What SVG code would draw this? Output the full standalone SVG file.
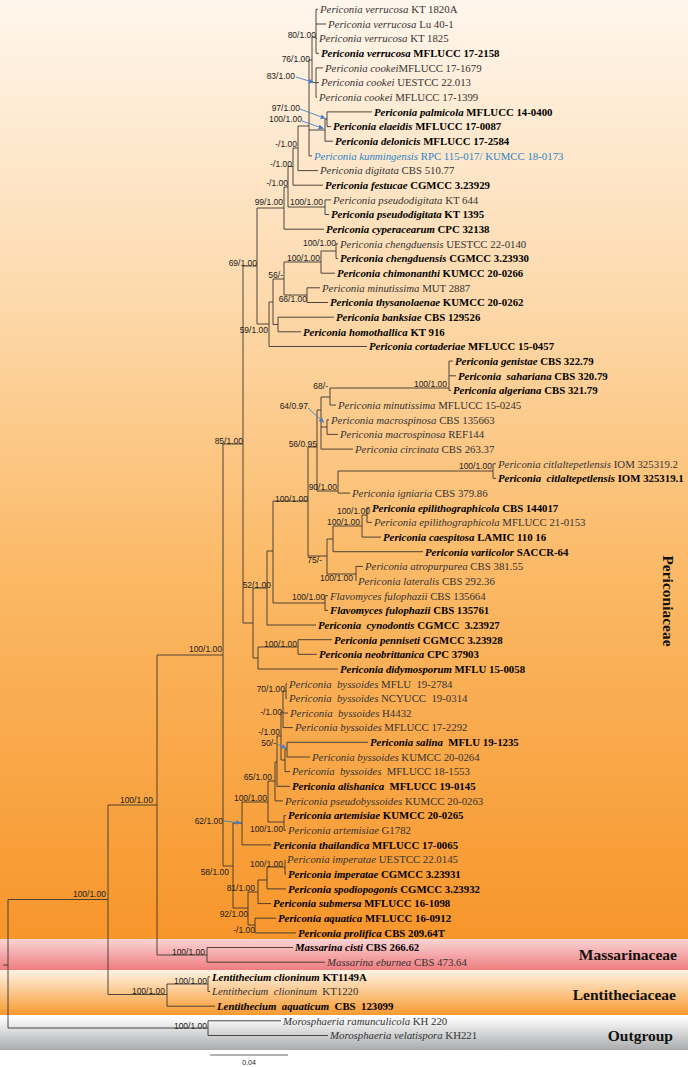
<svg xmlns="http://www.w3.org/2000/svg" width="688" height="1067" viewBox="0 0 688 1067">
<style>
.l{stroke:#3a3530;stroke-width:0.9;fill:none}
.t{font-family:"Liberation Serif",serif;font-size:10.8px;fill:#333}
.b{font-weight:bold;fill:#000}
.i{font-style:italic}
.p{white-space:pre}
.s{font-family:"Liberation Sans",sans-serif;font-size:8.5px;fill:#222;text-anchor:end}
.fam{font-family:"Liberation Serif",serif;font-size:15.5px;font-weight:bold;fill:#111}
.ar{stroke:#4a7ec2;stroke-width:0.9;fill:none;marker-end:url(#ah)}
</style>
<defs>
<linearGradient id="gP" x1="0" y1="0" x2="0" y2="1">
<stop offset="0" stop-color="#fff6ec"/><stop offset="0.3" stop-color="#fddbb0"/><stop offset="0.6" stop-color="#fbba68"/><stop offset="1" stop-color="#f7962b"/>
</linearGradient>
<linearGradient id="gM" x1="0" y1="0" x2="0" y2="1">
<stop offset="0" stop-color="#fad4d4"/><stop offset="1" stop-color="#ef7d80"/>
</linearGradient>
<linearGradient id="gL" x1="0" y1="0" x2="0" y2="1">
<stop offset="0" stop-color="#fff3e4"/><stop offset="1" stop-color="#f79a30"/>
</linearGradient>
<linearGradient id="gO" x1="0" y1="0" x2="0" y2="1">
<stop offset="0" stop-color="#ffffff"/><stop offset="1" stop-color="#a9abad"/>
</linearGradient>
<marker id="ah" markerWidth="6" markerHeight="6" refX="5" refY="3" orient="auto" markerUnits="userSpaceOnUse">
<path d="M0,0.5 L5,3 L0,5.5 Z" fill="#4a7ec2"/>
</marker>
</defs>
<rect width="688" height="1067" fill="#fff"/>
<g id="bands">
<rect x="0" y="0" width="688" height="939" fill="url(#gP)"/>
<rect x="0" y="939" width="688" height="31" fill="url(#gM)"/>
<rect x="0" y="970" width="688" height="45" fill="url(#gL)"/>
<rect x="0" y="1017" width="688" height="33" fill="url(#gO)"/>
</g>
<g id="connectors" class="l">
<path d="M316 9.3H318M316 24H326M316 38.6H317M316 53.3H319M316 67.9H323M316 82.6H319M316 97.3H317M327 111.9H372M327 126.6H331M325 141.2H333M309 155.9H312M298 170.6H318M293 185.2H323M325 199.9H331M325 214.5H329M284 229.2H324M336 243.9H338M336 258.5H338M321 273.2H335M307 287.8H320M307 302.5H328M278 317.2H334M278 331.8H301M269 346.5H367M449 361.1H453M449 375.8H456M449 390.5H451M330 405.1H336M327 419.8H329M327 434.4H338M321 449.1H353M493 463.8H496M493 478.4H496M338 493.1H350M367 507.7H370M367 522.4H372M362 537.1H381M333 551.7H423M356 566.4H363M325 595.7H328M325 610.4H328M267 625H316M298 639.7H332M298 654.3H317M258 669H338M286 683.7H287M286 698.3H287M283 713H288M283 727.6H293M287 742.3H368M287 757H310M285 771.6H290M277 786.3H290M275 800.9H283M284 815.6H286M284 830.3H286M242 844.9H271M285 874.2H286M267 888.9H286M258 903.6H271M255 918.2H276M255 932.9H296M207 947.5H293M207 962.2H325M208 976.9H210M208 991.5H210M167 1006.2H215M208 1020.8H281M208 1035.5H328"/>
<path d="M3 965H8M8 899.5V1028M8 899.5H108M108 805V994.5M108 805H157M157 655V955M157 955H207M207 947.5V962.2M108 994.5H167M167 984V1006.2M167 984H208M208 976.9V991.5M8 1028H208M208 1020.8V1035.5"/>
<path d="M157 655H223M223 444V866M223 444H243M243 266V623M223 866H233M233 823V908M243 266H257M257 208V324M243 623H253M253 588V658"/>
<path d="M257 208H284M284 187V229.2M284 187H288M288 166.5V207M288 166.5H293M293 148V185.2M293 148H298M298 126V170.6M298 126H309M309 60V155.9M309 60H312M312 37V82.6M312 37H316M316 9.3V53.3M312 82.6H316M316 67.9V97.3M309 130H325M325 119V141.2M325 119H327M327 111.9V126.6M288 207H325M325 199.9V214.5"/>
<path d="M257 324H269M269 302V346.5M269 302H273M273 279V324.5M273 324.5H278M278 317.2V331.8M273 279H284M284 262V295M284 262H321M321 251V273.2M321 251H336M336 243.9V258.5M284 295H307M307 287.8V302.5"/>
<path d="M253 588H267M267 551V625M267 551H273M273 501V603M273 603H325M325 595.7V610.4M273 501H308M308 447V556M308 447H317M317 410V491M317 410H321M321 397V449.1M321 397H330M330 388V405.1M330 388H449M449 361.1V390.5M321 427H327M327 419.8V434.4M317 491H338M338 471V493.1M338 471H493M493 463.8V478.4"/>
<path d="M308 556H327M327 539V574M327 539H333M333 526V551.7M333 526H362M362 515V537.1M362 515H367M367 507.7V522.4M327 574H356M356 566.4V581M253 658H258M258 647V669M258 647H298M298 639.7V654.3"/>
<path d="M233 823H242M242 802V844.9M242 802H268M268 781V822M268 822H284M284 815.6V830.3M268 781H275M275 762V800.9M275 762H277M277 736V786.3M277 736H281M281 712V760M281 712H283M283 691V727.6M283 691H286M286 683.7V698.3M281 760H285M285 749V771.6M285 749H287M287 742.3V757"/>
<path d="M233 908H248M248 892V925M248 892H258M258 880V903.6M258 880H267M267 867V888.9M267 867H285M285 859.6V874.2M248 925H255M255 918.2V932.9"/>
</g>
<g id="arrows">
<path class="ar" d="M296 77L314 82.5"/>
<path class="ar" d="M300 109L325.5 118.5"/>
<path class="ar" d="M302 121L323.5 128.5"/>
<path class="ar" d="M308 408L324 422.5"/>
<path class="ar" d="M277 744L286.5 748.5"/>
<path class="ar" d="M224 821L241 823"/>
</g>
<g id="supports">
<text class="s" x="316" y="38">80/1.00</text>
<text class="s" x="310" y="62">76/1.00</text>
<text class="s" x="295" y="79">83/1.00</text>
<text class="s" x="300" y="111">97/1.00</text>
<text class="s" x="302" y="122">100/1.00</text>
<text class="s" x="297" y="147">-/1.00</text>
<text class="s" x="292" y="167">-/1.00</text>
<text class="s" x="288" y="186">-/1.00</text>
<text class="s" x="283" y="205">99/1.00</text>
<text class="s" x="323" y="205">100/1.00</text>
<text class="s" x="336" y="246">100/1.00</text>
<text class="s" x="320" y="261">100/1.00</text>
<text class="s" x="257" y="266">69/1.00</text>
<text class="s" x="283" y="278">56/-</text>
<text class="s" x="307" y="302">66/1.00</text>
<text class="s" x="268" y="333">59/1.00</text>
<text class="s" x="447" y="387">100/1.00</text>
<text class="s" x="328" y="389">68/-</text>
<text class="s" x="308" y="409">64/0.97</text>
<text class="s" x="243" y="444">85/1.00</text>
<text class="s" x="317" y="447">56/0.95</text>
<text class="s" x="492" y="469">100/1.00</text>
<text class="s" x="337" y="490">90/1.00</text>
<text class="s" x="308" y="502">100/1.00</text>
<text class="s" x="370" y="514">100/1.00</text>
<text class="s" x="360" y="525">100/1.00</text>
<text class="s" x="322" y="563">75/-</text>
<text class="s" x="353" y="581">100/1.00</text>
<text class="s" x="271" y="588">52/1.00</text>
<text class="s" x="325" y="600">100/1.00</text>
<text class="s" x="297" y="647">100/1.00</text>
<text class="s" x="222" y="652">100/1.00</text>
<text class="s" x="285" y="692">70/1.00</text>
<text class="s" x="282" y="715">-/1.00</text>
<text class="s" x="280" y="735">-/1.00</text>
<text class="s" x="276" y="746">50/-</text>
<text class="s" x="272" y="780">65/1.00</text>
<text class="s" x="267" y="801">100/1.00</text>
<text class="s" x="153" y="803">100/1.00</text>
<text class="s" x="223" y="824">62/1.00</text>
<text class="s" x="283" y="832">100/1.00</text>
<text class="s" x="283" y="867">100/1.00</text>
<text class="s" x="229" y="875">58/1.00</text>
<text class="s" x="255" y="891">81/1.00</text>
<text class="s" x="248" y="917">92/1.00</text>
<text class="s" x="255" y="933">-/1.00</text>
<text class="s" x="106" y="897">100/1.00</text>
<text class="s" x="205" y="955">100/1.00</text>
<text class="s" x="207" y="984">100/1.00</text>
<text class="s" x="165" y="994">100/1.00</text>
<text class="s" x="207" y="1029">100/1.00</text>
</g>
<g id="taxa">
<g id="t01"><text class="t" x="320" y="13.1"><tspan class="i">Periconia verrucosa</tspan> KT 1820A</text></g>
<g id="t02"><text class="t" x="328" y="27.8"><tspan class="i">Periconia verrucosa</tspan> Lu 40-1</text></g>
<g id="t03"><text class="t" x="319" y="42.4"><tspan class="i">Periconia verrucosa</tspan> KT 1825</text></g>
<g id="t04"><text class="t b" x="321" y="57.1"><tspan class="i">Periconia verrucosa</tspan> MFLUCC 17-2158</text></g>
<g id="t05"><text class="t" x="325" y="71.7"><tspan class="i">Periconia cookei</tspan>MFLUCC 17-1679</text></g>
<g id="t06"><text class="t" x="321" y="86.4"><tspan class="i">Periconia cookei</tspan> UESTCC 22.013</text></g>
<g id="t07"><text class="t" x="319" y="101.1"><tspan class="i">Periconia cookei</tspan> MFLUCC 17-1399</text></g>
<g id="t08"><text class="t b" x="374" y="115.7"><tspan class="i">Periconia palmicola</tspan> MFLUCC 14-0400</text></g>
<g id="t09"><text class="t b" x="333" y="130.4"><tspan class="i">Periconia elaeidis</tspan> MFLUCC 17-0087</text></g>
<g id="t10"><text class="t b" x="335" y="145"><tspan class="i">Periconia delonicis</tspan> MFLUCC 17-2584</text></g>
<g id="t11"><text class="t" x="314" y="159.7" style="fill:#2b86c8"><tspan class="i">Periconia kunmingensis</tspan> RPC 115-017/ KUMCC 18-0173</text></g>
<g id="t12"><text class="t" x="320" y="174.4"><tspan class="i">Periconia digitata</tspan> CBS 510.77</text></g>
<g id="t13"><text class="t b" x="325" y="189"><tspan class="i">Periconia festucae</tspan> CGMCC 3.23929</text></g>
<g id="t14"><text class="t" x="333" y="203.7"><tspan class="i">Periconia pseudodigitata</tspan> KT 644</text></g>
<g id="t15"><text class="t b" x="331" y="218.3"><tspan class="i">Periconia pseudodigitata</tspan> KT 1395</text></g>
<g id="t16"><text class="t b" x="326" y="233"><tspan class="i">Periconia cyperacearum</tspan> CPC 32138</text></g>
<g id="t17"><text class="t" x="340" y="247.7"><tspan class="i">Periconia chengduensis</tspan> UESTCC 22-0140</text></g>
<g id="t18"><text class="t b" x="340" y="262.3"><tspan class="i">Periconia chengduensis</tspan> CGMCC 3.23930</text></g>
<g id="t19"><text class="t b" x="337" y="277"><tspan class="i">Periconia chimonanthi</tspan> KUMCC 20-0266</text></g>
<g id="t20"><text class="t" x="322" y="291.6"><tspan class="i">Periconia minutissima</tspan> MUT 2887</text></g>
<g id="t21"><text class="t b" x="330" y="306.3"><tspan class="i">Periconia thysanolaenae</tspan> KUMCC 20-0262</text></g>
<g id="t22"><text class="t b" x="336" y="321"><tspan class="i">Periconia banksiae</tspan> CBS 129526</text></g>
<g id="t23"><text class="t b" x="303" y="335.6"><tspan class="i">Periconia homothallica</tspan> KT 916</text></g>
<g id="t24"><text class="t b" x="369" y="350.3"><tspan class="i">Periconia cortaderiae</tspan> MFLUCC 15-0457</text></g>
<g id="t25"><text class="t b" x="455" y="364.9"><tspan class="i">Periconia genistae</tspan> CBS 322.79</text></g>
<g id="t26"><text class="t b p" x="458" y="379.6"><tspan class="i">Periconia  sahariana</tspan> CBS 320.79</text></g>
<g id="t27"><text class="t b" x="453" y="394.3"><tspan class="i">Periconia algeriana</tspan> CBS 321.79</text></g>
<g id="t28"><text class="t" x="338" y="408.9"><tspan class="i">Periconia minutissima</tspan> MFLUCC 15-0245</text></g>
<g id="t29"><text class="t" x="331" y="423.6"><tspan class="i">Periconia macrospinosa</tspan> CBS 135663</text></g>
<g id="t30"><text class="t" x="340" y="438.2"><tspan class="i">Periconia macrospinosa</tspan> REF144</text></g>
<g id="t31"><text class="t" x="355" y="452.9"><tspan class="i">Periconia circinata</tspan> CBS 263.37</text></g>
<g id="t32"><text class="t" x="498" y="467.6"><tspan class="i">Periconia citlaltepetlensis</tspan> IOM 325319.2</text></g>
<g id="t33"><text class="t b p" x="498" y="482.2"><tspan class="i">Periconia  citlaltepetlensis</tspan> IOM 325319.1</text></g>
<g id="t34"><text class="t" x="352" y="496.9"><tspan class="i">Periconia igniaria</tspan> CBS 379.86</text></g>
<g id="t35"><text class="t b" x="372" y="511.5"><tspan class="i">Periconia epilithographicola</tspan> CBS 144017</text></g>
<g id="t36"><text class="t" x="374" y="526.2"><tspan class="i">Periconia epilithographicola</tspan> MFLUCC 21-0153</text></g>
<g id="t37"><text class="t b" x="383" y="540.9"><tspan class="i">Periconia caespitosa</tspan> LAMIC 110 16</text></g>
<g id="t38"><text class="t b" x="425" y="555.5"><tspan class="i">Periconia variicolor</tspan> SACCR-64</text></g>
<g id="t39"><text class="t" x="365" y="570.2"><tspan class="i">Periconia atropurpurea</tspan> CBS 381.55</text></g>
<g id="t40"><text class="t" x="358" y="584.8"><tspan class="i">Periconia lateralis</tspan> CBS 292.36</text></g>
<g id="t41"><text class="t" x="330" y="599.5"><tspan class="i">Flavomyces fulophazii</tspan> CBS 135664</text></g>
<g id="t42"><text class="t b" x="330" y="614.2"><tspan class="i">Flavomyces fulophazii</tspan> CBS 135761</text></g>
<g id="t43"><text class="t b p" x="318" y="628.8"><tspan class="i">Periconia  cynodontis</tspan> CGMCC  3.23927</text></g>
<g id="t44"><text class="t b" x="334" y="643.5"><tspan class="i">Periconia penniseti</tspan> CGMCC 3.23928</text></g>
<g id="t45"><text class="t b" x="319" y="658.1"><tspan class="i">Periconia neobrittanica</tspan> CPC 37903</text></g>
<g id="t46"><text class="t b" x="340" y="672.8"><tspan class="i">Periconia didymosporum</tspan> MFLU 15-0058</text></g>
<g id="t47"><text class="t p" x="289" y="687.5"><tspan class="i">Periconia  byssoides</tspan> MFLU  19-2784</text></g>
<g id="t48"><text class="t p" x="289" y="702.1"><tspan class="i">Periconia  byssoides</tspan> NCYUCC  19-0314</text></g>
<g id="t49"><text class="t p" x="290" y="716.8"><tspan class="i">Periconia  byssoides</tspan> H4432</text></g>
<g id="t50"><text class="t" x="295" y="731.4"><tspan class="i">Periconia byssoides</tspan> MFLUCC 17-2292</text></g>
<g id="t51"><text class="t b p" x="370" y="746.1"><tspan class="i">Periconia salina</tspan>  MFLU 19-1235</text></g>
<g id="t52"><text class="t" x="312" y="760.8"><tspan class="i">Periconia byssoides</tspan> KUMCC 20-0264</text></g>
<g id="t53"><text class="t p" x="292" y="775.4"><tspan class="i">Periconia  byssoides</tspan>  MFLUCC 18-1553</text></g>
<g id="t54"><text class="t b p" x="292" y="790.1"><tspan class="i">Periconia alishanica</tspan>  MFLUCC 19-0145</text></g>
<g id="t55"><text class="t" x="285" y="804.7"><tspan class="i">Periconia pseudobyssoides</tspan> KUMCC 20-0263</text></g>
<g id="t56"><text class="t b" x="288" y="819.4"><tspan class="i">Periconia artemisiae</tspan> KUMCC 20-0265</text></g>
<g id="t57"><text class="t" x="288" y="834.1"><tspan class="i">Periconia artemisiae</tspan> G1782</text></g>
<g id="t58"><text class="t b" x="273" y="848.7"><tspan class="i">Periconia thailandica</tspan> MFLUCC 17-0065</text></g>
<g id="t59"><text class="t" x="287" y="863.4"><tspan class="i">Periconia imperatae</tspan> UESTCC 22.0145</text></g>
<g id="t60"><text class="t b" x="288" y="878"><tspan class="i">Periconia imperatae</tspan> CGMCC 3.23931</text></g>
<g id="t61"><text class="t b" x="288" y="892.7"><tspan class="i">Periconia spodiopogonis</tspan> CGMCC 3.23932</text></g>
<g id="t62"><text class="t b" x="273" y="907.4"><tspan class="i">Periconia submersa</tspan> MFLUCC 16-1098</text></g>
<g id="t63"><text class="t b" x="278" y="922"><tspan class="i">Periconia aquatica</tspan> MFLUCC 16-0912</text></g>
<g id="t64"><text class="t b" x="298" y="936.7"><tspan class="i">Periconia prolifica</tspan> CBS 209.64T</text></g>
<g id="t65"><text class="t b" x="295" y="951.3"><tspan class="i">Massarina cisti</tspan> CBS 266.62</text></g>
<g id="t66"><text class="t" x="327" y="966"><tspan class="i">Massarina eburnea</tspan> CBS 473.64</text></g>
<g id="t67"><text class="t b" x="212" y="980.7"><tspan class="i">Lentithecium clioninum</tspan> KT1149A</text></g>
<g id="t68"><text class="t p" x="212" y="995.3"><tspan class="i">Lentithecium  clioninum</tspan>  KT1220</text></g>
<g id="t69"><text class="t b p" x="217" y="1010"><tspan class="i">Lentithecium  aquaticum</tspan>  CBS  123099</text></g>
<g id="t70"><text class="t" x="283" y="1024.6"><tspan class="i">Morosphaeria ramunculicola</tspan> KH 220</text></g>
<g id="t71"><text class="t" x="330" y="1039.3"><tspan class="i">Morosphaeria velatispora</tspan> KH221</text></g>
</g>
<g id="families">
<text class="fam" transform="translate(663,601) rotate(90)" text-anchor="middle">Periconiaceae</text>
<text class="fam" x="677" y="960" text-anchor="end">Massarinaceae</text>
<text class="fam" x="676" y="1000" text-anchor="end">Lentitheciaceae</text>
<text class="fam" x="673" y="1041" text-anchor="end">Outgroup</text>
</g>
<g id="scalebar">
<path d="M210 1055H288" stroke="#555" stroke-width="0.9"/>
<text x="249" y="1065" font-family="Liberation Sans, sans-serif" font-size="7" fill="#222" text-anchor="middle">0.04</text>
</g>
</svg>
